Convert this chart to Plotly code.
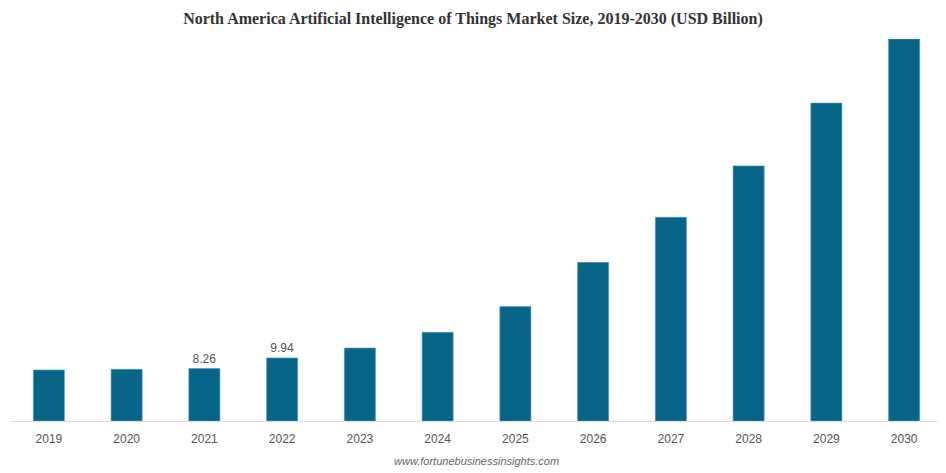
import plotly.graph_objects as go

years = ["2019", "2020", "2021", "2022", "2023", "2024", "2025", "2026", "2027", "2028", "2029", "2030"]
values = [8.03, 8.14, 8.26, 9.94, 11.5, 13.97, 18.06, 25.0, 32.1, 40.2, 50.1, 60.2]
shown_labels = ["", "", "8.26", "9.94", "", "", "", "", "", "", "", ""]

fig = go.Figure()
fig.add_trace(go.Bar(
    x=years, y=values,
    marker=dict(color="#066589", line=dict(color="#5a9ab5", width=0.6)),
    width=0.4,
    text=shown_labels, textposition="outside",
    textfont=dict(family="Liberation Sans, Arial", size=12, color="#555555"),
    cliponaxis=False,
    hoverinfo="x+y",
))

fig.update_layout(
    width=946, height=473,
    margin=dict(l=2, r=11, t=31, b=60),
    paper_bgcolor="white", plot_bgcolor="white",
    showlegend=False,
    title=dict(
        text="<b>North America Artificial Intelligence of Things Market Size, 2019-2030 (USD Billion)</b>",
        x=0.4915, xanchor="center", y=0.979, yanchor="middle",
        font=dict(family="Liberation Serif, Times New Roman", size=16, color="#333333"),
    ),
    xaxis=dict(
        showgrid=False, showline=True, linecolor="#dddddd", linewidth=1,
        ticks="", ticklabelstandoff=7,
        tickfont=dict(family="Liberation Sans, Arial", size=12, color="#555555"),
        fixedrange=True,
    ),
    yaxis=dict(
        range=[0, 60.2], showgrid=False, showticklabels=False, zeroline=False,
        showline=False, fixedrange=True,
    ),
    annotations=[dict(
        text="<i>www.fortunebusinessinsights.com</i>",
        xref="paper", yref="paper", x=0.5, y=-0.105, yanchor="middle", showarrow=False,
        font=dict(family="Liberation Sans, Arial", size=11, color="#666666"),
    )],
)

fig.write_html("out.html")
